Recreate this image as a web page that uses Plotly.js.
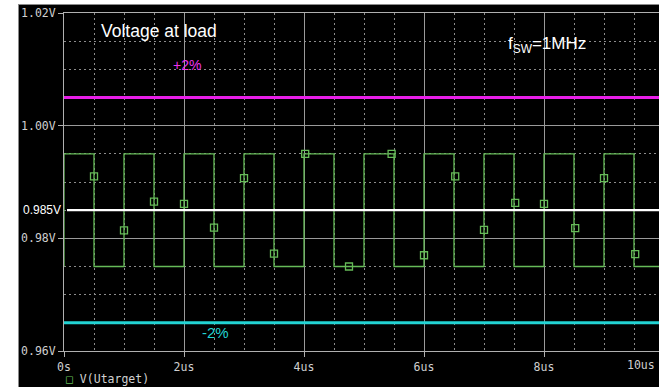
<!DOCTYPE html>
<html>
<head>
<meta charset="utf-8">
<script src="https://cdn.plot.ly/plotly-3.0.1.min.js"></script>
<style>
  html, body { margin: 0; padding: 0; background: #ffffff; overflow: hidden; width: 659px; height: 387px; }
  #frame { position: absolute; left: 18px; top: 4px; width: 660px; height: 400px; background: #000000; border-top: 1px solid #8a8a8a; border-left: 1px solid #8a8a8a; }
  #chart { position: absolute; left: 0; top: 0; width: 665px; height: 387px; }
</style>
</head>
<body>
<div id="frame"></div>
<div id="chart"></div>
<script>
// ---- data ----
// square-wave trace V(Utarget): time (us) and voltage (V)
const waveT = [0, 0, 0.5, 0.5, 1, 1, 1.5, 1.5, 2, 2, 2.5, 2.5, 3, 3, 3.5, 3.5, 4, 4, 4.5, 4.5,
               5, 5, 5.5, 5.5, 6, 6, 6.5, 6.5, 7, 7, 7.5, 7.5, 8, 8, 8.5, 8.5, 9, 9, 9.5, 9.5, 10];
const waveV = [0.975, 0.995, 0.995, 0.975, 0.975, 0.995, 0.995, 0.975, 0.975, 0.995,
               0.995, 0.975, 0.975, 0.995, 0.995, 0.975, 0.975, 0.995, 0.995, 0.975,
               0.975, 0.995, 0.995, 0.975, 0.975, 0.995, 0.995, 0.975, 0.975, 0.995,
               0.995, 0.975, 0.975, 0.995, 0.995, 0.975, 0.975, 0.995, 0.995, 0.975, 0.975];
// trace markers (open squares)
const markT = [0.5, 1.0, 1.5, 2.0, 2.5, 3.0, 3.5, 4.02, 4.75, 5.46, 6.0, 6.52, 7.0, 7.52, 8.0, 8.52, 9.0, 9.52];
const markV = [0.991, 0.9814, 0.9865, 0.9861, 0.9819, 0.9907, 0.9773, 0.995, 0.975, 0.995,
               0.977, 0.991, 0.9815, 0.9863, 0.9861, 0.9818, 0.9907, 0.9772];
// reference levels
const nominalT = [0.05, 10];
const nominalV = [0.985, 0.985];
const upperT = [0, 10];
const upperV = [1.005, 1.005];
const lowerT = [0, 10];
const lowerV = [0.965, 0.965];
// ticks (the 10us label sits at the cropped right edge, drawn as an annotation)
const xTickVals = [0, 2, 4, 6, 8];
const xTickText = ['0s', '2us', '4us', '6us', '8us'];
const xLastTickText = '10us';
const yTickVals = [0.96, 0.98, 1.00, 1.02];
const yTickText = ['0.96V', '0.98V', '1.00V', '1.02V'];

const GREEN = '#66bb58';
const MONO = '"DejaVu Sans Mono", "Liberation Mono", monospace';
const SANS = '"Liberation Sans", Arial, sans-serif';

const traces = [
  { x: waveT, y: waveV, type: 'scatter', mode: 'lines', line: { color: GREEN, width: 1.3 }, showlegend: false, hoverinfo: 'skip' },
  { x: markT, y: markV, type: 'scatter', mode: 'markers', name: 'V(Utarget)',
    marker: { symbol: 'square-open', size: 7, color: GREEN, line: { width: 1.3, color: GREEN } }, showlegend: false },
  { x: nominalT, y: nominalV, type: 'scatter', mode: 'lines', line: { color: '#ffffff', width: 2.2 }, showlegend: false },
  { x: upperT, y: upperV, type: 'scatter', mode: 'lines', line: { color: '#e81ee8', width: 3 }, showlegend: false },
  { x: lowerT, y: lowerV, type: 'scatter', mode: 'lines', line: { color: '#22d3d3', width: 3 }, showlegend: false }
];

const layout = {
  width: 665, height: 387,
  margin: { l: 64, r: 1, t: 13, b: 36, pad: 0 },
  paper_bgcolor: 'rgba(0,0,0,0)',
  plot_bgcolor: '#000000',
  showlegend: false,
  xaxis: {
    range: [0, 10], fixedrange: true,
    tickmode: 'array', tickvals: xTickVals, ticktext: xTickText,
    ticks: 'outside', ticklen: 5, tickcolor: '#b0b0b0', tickwidth: 1,
    tickfont: { family: MONO, size: 11.5, color: '#d0d0d0' },
    ticklabeloverflow: 'allow',
    showgrid: true, gridcolor: '#9a9a9a', gridwidth: 1,
    minor: { tickmode: 'linear', tick0: 0, dtick: 0.5, showgrid: true, gridcolor: '#8c8c8c', griddash: '2px,3px', gridwidth: 1, ticks: '' },
    showline: true, linecolor: '#b0b0b0', linewidth: 1, mirror: true,
    zeroline: false, automargin: false
  },
  yaxis: {
    range: [0.96, 1.02], fixedrange: true,
    tickmode: 'array', tickvals: yTickVals, ticktext: yTickText,
    ticks: 'outside', ticklen: 5, tickcolor: '#b0b0b0', tickwidth: 1,
    tickfont: { family: MONO, size: 11.5, color: '#d0d0d0' },
    ticklabeloverflow: 'allow',
    showgrid: true, gridcolor: '#9a9a9a', gridwidth: 1,
    minor: { tickmode: 'linear', tick0: 0.96, dtick: 0.005, showgrid: true, gridcolor: '#8c8c8c', griddash: '2px,3px', gridwidth: 1, ticks: '' },
    showline: true, linecolor: '#b0b0b0', linewidth: 1, mirror: true,
    zeroline: false, automargin: false
  },
  annotations: [
    { xref: 'x', yref: 'y', x: 0.58, y: 1.0168, xanchor: 'left', yanchor: 'middle', showarrow: false,
      text: 'Voltage at load', font: { family: SANS, size: 17.5, color: '#ffffff' } },
    { xref: 'x', yref: 'y', x: 7.36, y: 1.0143, xanchor: 'left', yanchor: 'middle', showarrow: false,
      text: 'f<sub>SW</sub>=1MHz', font: { family: SANS, size: 17, color: '#ffffff' } },
    { xref: 'x', yref: 'y', x: 2.05, y: 1.0108, xanchor: 'center', yanchor: 'middle', showarrow: false,
      text: '+2%', font: { family: SANS, size: 14, color: '#ee33ee' } },
    { xref: 'x', yref: 'y', x: 2.53, y: 0.9633, xanchor: 'center', yanchor: 'middle', showarrow: false,
      text: '-2%', font: { family: SANS, size: 15, color: '#22d3d3' } },
    { xref: 'paper', yref: 'y', x: 0, y: 0.985, xanchor: 'right', yanchor: 'middle', xshift: -1, showarrow: false,
      text: '0.985V', font: { family: SANS, size: 12, color: '#ffffff' } },
    { xref: 'paper', yref: 'paper', x: 1, y: 0, xanchor: 'right', yanchor: 'top', xshift: -7, yshift: -5, showarrow: false,
      text: xLastTickText, font: { family: MONO, size: 11.5, color: '#d0d0d0' } },
    { xref: 'paper', yref: 'paper', x: 0, y: -0.083, xanchor: 'left', yanchor: 'middle', showarrow: false,
      text: '<span style="color:' + GREEN + '">□</span> V(Utarget)', font: { family: MONO, size: 11.5, color: '#d0d0d0' } }
  ]
};

Plotly.newPlot('chart', traces, layout, { staticPlot: true, displayModeBar: false });
</script>
</body>
</html>
